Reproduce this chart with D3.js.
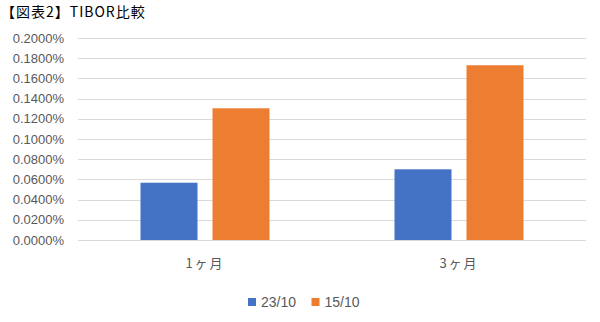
<!DOCTYPE html>
<html>
<head>
  <meta charset="utf-8">
  <style>
    body { margin: 0; background: #fff; }
    text { font-family: "Noto Sans CJK JP", "Liberation Sans", sans-serif; }
    .grid line { stroke: #d9d9d9; stroke-width: 1; }
  </style>
</head>
<body>
  <svg id="chart" width="600" height="322"></svg>
  <script src="https://d3js.org/d3.v7.min.js"></script>
  <script>
    // data
    const categories = ["1ヶ月", "3ヶ月"];
    const seriesNames = ["23/10", "15/10"];
    const series2310 = [0.0567, 0.0700];
    const series1510 = [0.1304, 0.1730];
    const yTicks = [0, 0.02, 0.04, 0.06, 0.08, 0.10, 0.12, 0.14, 0.16, 0.18, 0.20];
    const colors = ["#4472C4", "#ED7D31"];

    const svg = d3.select("#chart");
    const plotLeft = 78, plotRight = 586, plotTop = 38, plotBottom = 240;

    svg.append("text")
      .attr("x", 1).attr("y", 16.5)
      .style("font-size", "14px")
      .style("letter-spacing", "1px")
      .attr("fill", "#000")
      .text("【図表2】TIBOR比較");

    let y = d3.scaleLinear().domain([0, 0.2]).range([plotBottom, plotTop]);
    let x = d3.scaleBand().domain(categories).range([plotLeft, plotRight]);

    // gridlines
    svg.append("g").attr("class", "grid")
      .selectAll("line")
      .data(yTicks)
      .join("line")
      .attr("x1", plotLeft).attr("x2", plotRight)
      .attr("y1", d => Math.round(y(d)) + 0.5)
      .attr("y2", d => Math.round(y(d)) + 0.5);

    // y axis labels
    let yAxis = svg.append("g")
      .attr("transform", "translate(" + (plotLeft - 14) + ",0)")
      .call(d3.axisLeft(y).tickValues(yTicks).tickSize(0).tickPadding(0)
        .tickFormat(d => d.toFixed(4) + "%"));
    yAxis.select(".domain").remove();
    yAxis.selectAll("text")
      .style("font-family", "'Liberation Sans', sans-serif")
      .style("font-size", "13px")
      .attr("fill", "#595959");

    // bars
    const barW = 57, barGap = 15;
    let inner = d3.scaleBand().domain(seriesNames)
      .range([0, barW * 2 + barGap]).paddingInner(barGap / (barW + barGap));
    const allSeries = [series2310, series1510];

    let groups = svg.append("g").selectAll("g")
      .data(categories)
      .join("g")
      .attr("transform", d => "translate(" + (x(d) + (x.bandwidth() - (barW * 2 + barGap)) / 2) + ",0)");

    groups.selectAll("rect")
      .data((c, i) => seriesNames.map((s, j) => ({ s: s, v: allSeries[j][i], j: j })))
      .join("rect")
      .attr("x", d => inner(d.s))
      .attr("width", inner.bandwidth())
      .attr("y", d => y(d.v))
      .attr("height", d => plotBottom - y(d.v))
      .attr("fill", d => colors[d.j]);

    // x labels
    svg.append("g").selectAll("text")
      .data(categories)
      .join("text")
      .attr("x", d => x(d) + x.bandwidth() / 2)
      .attr("y", 268)
      .attr("text-anchor", "middle")
      .style("font-size", "13px")
      .style("letter-spacing", "2px")
      .attr("fill", "#595959")
      .text(d => d);

    // legend
    let legend = svg.append("g").selectAll("g")
      .data(seriesNames)
      .join("g")
      .attr("transform", (d, i) => "translate(" + (248 + i * 63.5) + ",298)");
    legend.append("rect")
      .attr("width", 8).attr("height", 8)
      .attr("fill", (d, i) => colors[i]);
    legend.append("text")
      .attr("x", 13).attr("y", 9)
      .style("font-family", "'Liberation Sans', sans-serif")
      .style("font-size", "14px")
      .attr("fill", "#595959")
      .text(d => d);
  </script>
</body>
</html>
